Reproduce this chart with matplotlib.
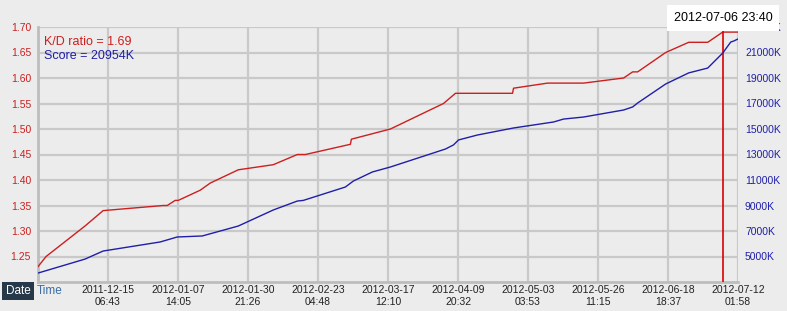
import pandas as pd
import matplotlib.pyplot as plt
import matplotlib.dates as mdates

plt.rcParams['font.family'] = ['Liberation Sans', 'DejaVu Sans']

# K/D ratio series
kd_dates = ["2011-11-21 23:00", "2011-11-24 16:00", "2011-12-07 16:00", "2011-12-13 16:00",
            "2012-01-02 16:00", "2012-01-04 00:00", "2012-01-06 16:00", "2012-01-07 16:00",
            "2012-01-15 00:00", "2012-01-18 08:00", "2012-01-27 16:00", "2012-02-08 08:00",
            "2012-02-16 08:00", "2012-02-19 00:00", "2012-03-05 00:00", "2012-03-05 08:00",
            "2012-03-18 08:00", "2012-04-05 00:00", "2012-04-09 00:00", "2012-04-28 00:00",
            "2012-04-28 08:00", "2012-05-09 16:00", "2012-05-21 16:00", "2012-06-04 00:00",
            "2012-06-07 00:00", "2012-06-08 16:00", "2012-06-18 00:00", "2012-06-25 16:00",
            "2012-07-02 00:00", "2012-07-06 23:40", "2012-07-12 01:58"]
kd_values = [1.23, 1.25, 1.31, 1.34,
             1.35, 1.35, 1.36, 1.36,
             1.38, 1.394, 1.42, 1.43,
             1.45, 1.45, 1.47, 1.48,
             1.50, 1.55, 1.57, 1.57,
             1.58, 1.59, 1.59, 1.60,
             1.612, 1.612, 1.65, 1.67,
             1.67, 1.69, 1.69]

# Score series in thousands
score_dates = ["2011-11-21 23:00", "2011-12-07 16:00", "2011-12-13 16:00", "2012-01-01 16:00",
               "2012-01-07 08:00", "2012-01-15 16:00", "2012-01-27 16:00", "2012-02-08 08:00",
               "2012-02-16 08:00", "2012-02-18 08:00", "2012-03-03 08:00", "2012-03-06 00:00",
               "2012-03-12 08:00", "2012-03-18 08:00", "2012-04-05 16:00", "2012-04-08 08:00",
               "2012-04-10 00:00", "2012-04-16 08:00", "2012-04-28 08:00", "2012-05-11 16:00",
               "2012-05-15 00:00", "2012-05-21 16:00", "2012-06-04 00:00", "2012-06-07 00:00",
               "2012-06-08 16:00", "2012-06-18 00:00", "2012-06-25 16:00", "2012-07-02 00:00",
               "2012-07-06 23:40", "2012-07-09 16:00", "2012-07-10 16:00", "2012-07-12 01:58"]
score_values = [3700, 4800, 5430, 6140,
                6530, 6610, 7390, 8650,
                9350, 9400, 10450, 10920,
                11630, 12020, 13430, 13750,
                14140, 14530, 15080, 15550,
                15780, 15940, 16490, 16730,
                17040, 18530, 19400, 19780,
                20954, 21820, 21900, 22060]

x_ticks = ["2011-12-15 06:43", "2012-01-07 14:05", "2012-01-30 21:26", "2012-02-23 04:48",
           "2012-03-17 12:10", "2012-04-09 20:32", "2012-05-03 03:53", "2012-05-26 11:15",
           "2012-06-18 18:37", "2012-07-12 01:58"]
x_start = "2011-11-21 23:21"
kd_ticks = [1.25, 1.30, 1.35, 1.40, 1.45, 1.50, 1.55, 1.60, 1.65, 1.70]
score_ticks = [5000, 7000, 9000, 11000, 13000, 15000, 17000, 19000, 21000, 23000]

cursor_date = "2012-07-06 23:40"
kd_now = 1.69
score_now = 20954

red = "#cc1f1f"
blue = "#1f1fa8"
bg = "#ececec"
grid = "#c9c9c9"

kd_t = pd.to_datetime(kd_dates)
sc_t = pd.to_datetime(score_dates)
tick_t = pd.to_datetime(x_ticks)

fig = plt.figure(figsize=(7.87, 3.11), dpi=100, facecolor=bg)
ax = fig.add_axes([38 / 787, 29 / 311, 700 / 787, 255 / 311])
ax.set_facecolor(bg)
ax2 = ax.twinx()

ax.set_xlim(pd.Timestamp(x_start), tick_t[-1])
ax.set_ylim(1.20, 1.70)
ax2.set_ylim(3000, 23000)

ax.set_xticks(tick_t)
ax.set_xticklabels([t.replace(" ", "\n") for t in x_ticks], fontsize=7.5, color="#222222",
                   linespacing=1.25)
ax.set_yticks(kd_ticks)
ax.set_yticklabels([f"{v:.2f}" for v in kd_ticks], fontsize=7.5, color=red)
ax2.set_yticks(score_ticks)
ax2.set_yticklabels([f"{v}K" for v in score_ticks], fontsize=7.5, color=blue)

ax.tick_params(axis="y", length=0, pad=5)
ax.tick_params(axis="x", length=0, pad=2)
ax2.tick_params(axis="y", length=0, pad=5)
ax.grid(True, color=grid, linewidth=1.6)
for sp in ["top", "right"]:
    ax.spines[sp].set_visible(False)
    ax2.spines[sp].set_visible(False)
ax2.spines["left"].set_visible(False)
ax2.spines["bottom"].set_visible(False)
ax.spines["left"].set_color("#bdbdbd")
ax.spines["left"].set_linewidth(2)
ax.spines["bottom"].set_color("#bdbdbd")
ax.spines["bottom"].set_linewidth(2)

ax.plot(kd_t, kd_values, color=red, linewidth=1, zorder=3)
ax2.plot(sc_t, score_values, color=blue, linewidth=1, zorder=3)
ax.axvline(pd.Timestamp(cursor_date), color="#dd0000", linewidth=1.2, zorder=4)

ax.text(0.008, 0.94, f"K/D ratio = {kd_now}", transform=ax.transAxes, color=red,
        fontsize=9, va="center")
ax.text(0.008, 0.885, f"Score = {score_now}K", transform=ax.transAxes, color=blue,
        fontsize=9, va="center")

fig.text(723 / 787, 1 - 18 / 311, cursor_date, fontsize=9, color="black", ha="center",
         va="center", bbox=dict(facecolor="white", edgecolor="none", pad=5))

fig.text(18 / 787, 1 - 291 / 311, "Date", fontsize=8.5, color="white", ha="center",
         va="center", bbox=dict(facecolor="#26394a", edgecolor="none", pad=2.5))
fig.text(37 / 787, 1 - 291 / 311, "Time", fontsize=8.5, color="#3a6ea5", ha="left",
         va="center")

fig.savefig("out.png", dpi=100, facecolor=bg)
